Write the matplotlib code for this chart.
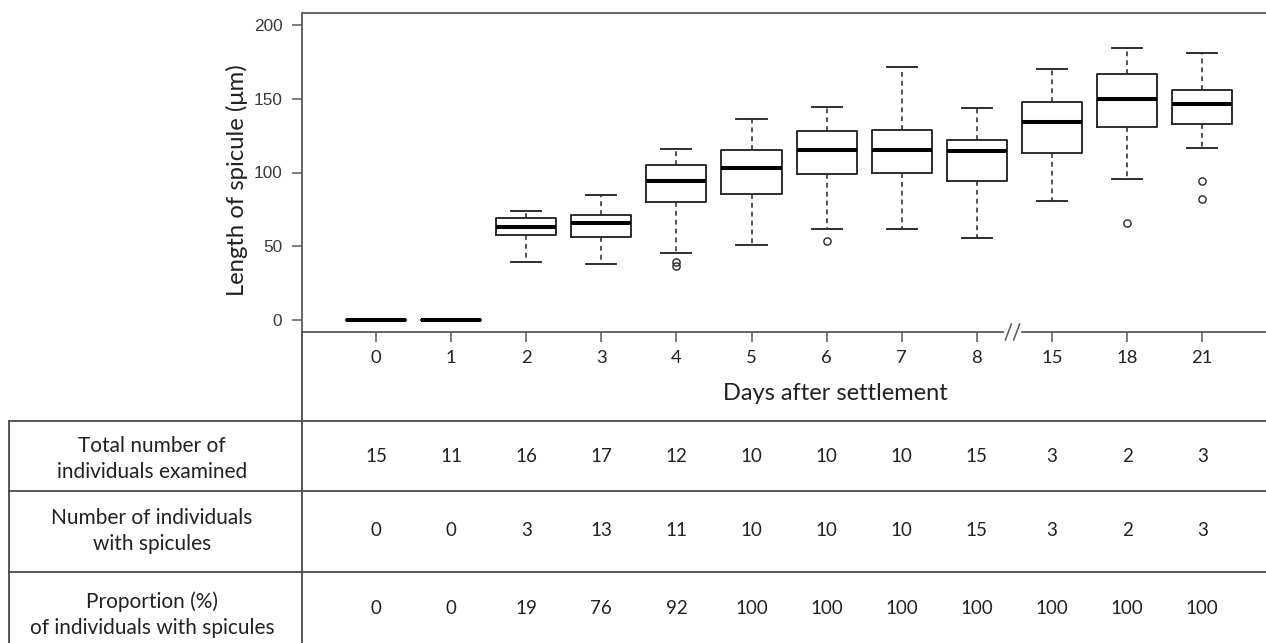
import matplotlib
matplotlib.use("Agg")
import matplotlib.pyplot as plt
import matplotlib.transforms as mtransforms
from matplotlib.lines import Line2D

# days after settlement (x categories)
days = ["0", "1", "2", "3", "4", "5", "6", "7", "8", "15", "18", "21"]

# box statistics (um)
whis_lo = [0, 0, 39.6, 38.3, 45.5, 50.7, 61.6, 61.6, 55.7, 80.5, 95.6, 116.8]
q1 = [0, 0, 57.9, 56.2, 79.8, 85.7, 98.8, 99.9, 94.0, 113.0, 130.6, 132.6]
median = [0, 0, 62.9, 65.6, 94.0, 103.0, 115.2, 115.2, 114.3, 133.9, 149.9, 146.3]
q3 = [0, 0, 69.4, 71.2, 105.3, 115.2, 128.1, 128.8, 121.8, 147.7, 166.6, 155.8]
whis_hi = [0, 0, 74.0, 84.8, 115.9, 136.4, 144.1, 171.6, 143.4, 170.0, 184.0, 180.6]
outliers = [[], [], [], [], [37.0, 39.5], [], [53.9], [], [], [], [66.0], [94.2, 81.9]]

# table below the plot
row_labels = ["Total number of\nindividuals examined",
              "Number of individuals\nwith spicules",
              "Proportion (%)\nof individuals with spicules"]
n_total = [15, 11, 16, 17, 12, 10, 10, 10, 15, 3, 2, 3]
n_spicules = [0, 0, 3, 13, 11, 10, 10, 10, 15, 3, 2, 3]
proportion = [0, 0, 19, 76, 92, 100, 100, 100, 100, 100, 100, 100]

W, H = 1266, 643
txt_font = ["Lato", "DejaVu Sans"]
frame_col = "#5a5a5a"
box_col = "#262626"

fig = plt.figure(figsize=(W / 100, H / 100), dpi=100)

def fx(px):
    return px / W

def fy(py):
    return 1 - py / H

# main axes in pixel box 302..1266 x 13..332
ax = fig.add_axes([fx(302), fy(332), fx(1266 - 302), (332 - 13) / H])

stats = []
for i in range(len(days)):
    stats.append(dict(med=median[i], q1=q1[i], q3=q3[i],
                      whislo=whis_lo[i], whishi=whis_hi[i], fliers=outliers[i]))

pos = list(range(len(days)))
ax.bxp(stats, positions=pos, widths=0.8, capwidths=0.4, showfliers=True,
       boxprops=dict(color=box_col, linewidth=1.35),
       whiskerprops=dict(color=box_col, linewidth=1.1, linestyle=(0, (3.2, 2.6))),
       capprops=dict(color=box_col, linewidth=1.35),
       medianprops=dict(color="black", linewidth=2.9, solid_capstyle="butt"),
       flierprops=dict(marker="o", markerfacecolor="none", markeredgecolor=box_col,
                       markersize=5.2, markeredgewidth=1.0))

ax.set_xlim(-0.985, 11.85)
ax.set_ylim(-7.9, 207.9)
ax.set_yticks([0, 50, 100, 150, 200])
ax.set_xticks(pos)
ax.set_xticklabels(days, family=txt_font, fontsize=13.3, color="#222222")
for lab in ax.get_yticklabels():
    lab.set_family("Liberation Sans")
    lab.set_fontsize(12.4)
    lab.set_color("#3a3a3a")
ax.tick_params(axis="y", length=7.2, width=1.1, color=frame_col, pad=7)
ax.tick_params(axis="x", length=7.2, width=1.1, color=frame_col, pad=6)

for s in ["right", "bottom"]:
    ax.spines[s].set_visible(False)
for s in ["left", "top"]:
    ax.spines[s].set_color(frame_col)
    ax.spines[s].set_linewidth(1.3)

# bottom axis line with a break between 8 and 15
trans = mtransforms.blended_transform_factory(ax.transData, ax.transAxes)
ax.plot([-0.985, 8.35], [0, 0], color=frame_col, lw=1.3, transform=trans, clip_on=False)
ax.plot([8.6, 11.85], [0, 0], color=frame_col, lw=1.3, transform=trans, clip_on=False)
for xc in [8.42, 8.53]:
    ax.plot([xc - 0.04, xc + 0.04], [-0.025, 0.025], color=frame_col, lw=1.1,
            transform=trans, clip_on=False)

# axis titles
fig.text(fx(835), fy(394), "Days after settlement", family=txt_font, fontsize=17,
         ha="center", va="center", color="#222222")
fig.text(fx(237), fy(180), "Length of spicule (\u03bcm)", family=txt_font, fontsize=17.2,
         rotation=90, ha="center", va="center", color="#222222")

# table grid
line_kw = dict(color="#4a4a4a", lw=1.3)
fig.add_artist(Line2D([fx(302), fx(302)], [fy(332), fy(643)], **line_kw))
fig.add_artist(Line2D([fx(9), fx(9)], [fy(421), fy(643)], **line_kw))
for yy in [421, 490.7, 572.3]:
    fig.add_artist(Line2D([fx(9), 1], [fy(yy), fy(yy)], **line_kw))

# table content
row_y = [459, 531, 615]
num_y = [457, 531, 608]
tab_trans = mtransforms.blended_transform_factory(ax.transData, fig.transFigure)
for r, (label, vals) in enumerate(zip(row_labels, [n_total, n_spicules, proportion])):
    fig.text(fx(152), fy(row_y[r]), label, family=txt_font, fontsize=15,
             ha="center", va="center", multialignment="center", linespacing=1.4,
             color="#222222")
    for i, v in enumerate(vals):
        ax.text(pos[i], fy(num_y[r]), str(v), transform=tab_trans, family=txt_font,
                fontsize=13.5, ha="center", va="center", color="#222222")

fig.savefig("out.png", dpi=100)
